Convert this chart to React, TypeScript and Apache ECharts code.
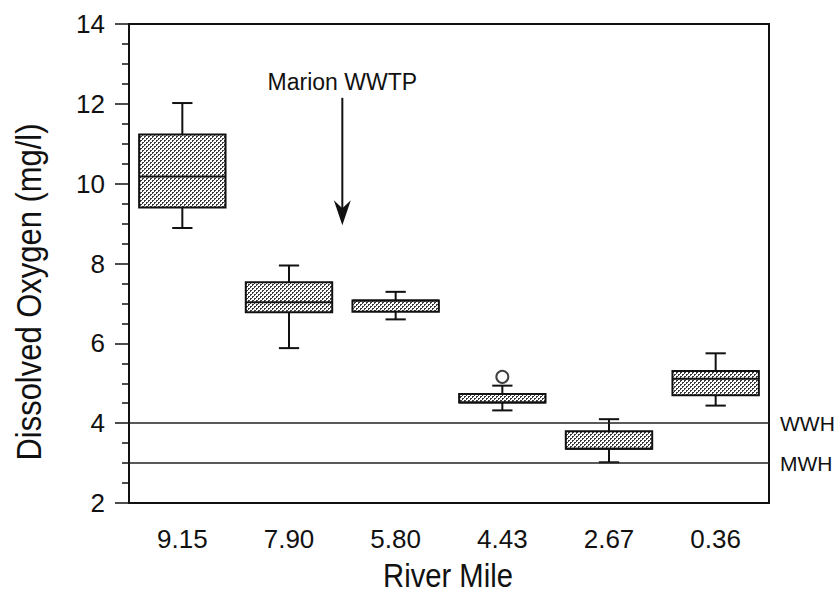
import React, { useEffect, useRef } from "react";
import * as echarts from "echarts";

// ---- data ----
const categories = ["9.15", "7.90", "5.80", "4.43", "2.67", "0.36"];
const whiskerLow = [8.89, 5.88, 6.6, 4.32, 3.02, 4.44];
const quartile1 = [9.4, 6.78, 6.79, 4.52, 3.36, 4.7];
const medians = [10.18, 7.03, 7.07, 4.52, 3.36, 5.11];
const quartile3 = [11.23, 7.53, 7.07, 4.73, 3.8, 5.31];
const whiskerHigh = [12.02, 7.95, 7.29, 4.94, 4.1, 5.75];
const outlierPoints = [[3, 5.16]];
const standardNames = ["WWH", "MWH"];
const standardValues = [4, 3];
const yMin = 2;
const yMax = 14;
const yInterval = 2;
// annotation: arrow between categories 1 and 2
const annotationText = "Marion WWTP";
const annotationBetween = [1, 2];
const annotationTop = 12.15;
const annotationTip = 8.96;
const annotationTextY = 12.55;

const FONT = "'Liberation Sans', Arial, Helvetica, sans-serif";
const INK = "#111";

function makePattern() {
  const c = document.createElement("canvas");
  c.width = 4;
  c.height = 4;
  const ctx = c.getContext("2d");
  if (ctx) {
    ctx.fillStyle = "#ffffff";
    ctx.fillRect(0, 0, 4, 4);
    ctx.fillStyle = "#3a3a3a";
    ctx.fillRect(0, 0, 2, 1);
    ctx.fillRect(0, 1, 1, 1);
    ctx.fillRect(2, 2, 2, 1);
    ctx.fillRect(2, 3, 1, 1);
  }
  return { image: c, repeat: "repeat", imageWidth: 4, imageHeight: 4 } as any;
}

export default function App() {
  const ref = useRef<HTMLDivElement>(null);

  useEffect(() => {
    if (!ref.current) return;
    const chart = echarts.init(ref.current, undefined, { renderer: "svg" });
    const pattern = makePattern();

    const boxData = categories.map((_, i) => [
      i,
      whiskerLow[i],
      quartile1[i],
      medians[i],
      quartile3[i],
      whiskerHigh[i],
    ]);

    const option: any = {
      animation: false,
      backgroundColor: "#ffffff",
      grid: { left: 129, right: 69, top: 24, bottom: 90, show: true, borderColor: INK, borderWidth: 2, backgroundColor: "transparent" },
      xAxis: {
        type: "category",
        data: categories,
        axisLine: { show: true, lineStyle: { color: INK, width: 2 } },
        axisTick: { show: false },
        axisLabel: { color: INK, fontFamily: FONT, fontSize: 26, margin: 23 },
        splitLine: { show: false },
      },
      yAxis: {
        type: "value",
        min: yMin,
        max: yMax,
        interval: yInterval,
        axisLine: { show: true, lineStyle: { color: INK, width: 2 } },
        axisTick: { show: true, length: 14, lineStyle: { color: INK, width: 1.5 } },
        minorTick: { show: true, splitNumber: 4, length: 7, lineStyle: { color: INK, width: 1.5 } },
        axisLabel: { color: INK, fontFamily: FONT, fontSize: 26, margin: 24 },
        splitLine: { show: false },
        minorSplitLine: { show: false },
      },
      graphic: [
        {
          type: "text",
          x: 29,
          y: 292,
          rotation: Math.PI / 2,
          scaleX: 0.86,
          style: {
            text: "Dissolved Oxygen (mg/l)",
            font: `36px ${FONT}`,
            fill: INK,
            textAlign: "center",
            textVerticalAlign: "middle",
          },
        },
        {
          type: "text",
          x: 448,
          y: 575,
          scaleX: 0.86,
          style: {
            text: "River Mile",
            font: `34px ${FONT}`,
            fill: INK,
            textAlign: "center",
            textVerticalAlign: "middle",
          },
        },
      ],
      series: [
        {
          type: "custom",
          name: "boxes",
          data: boxData,
          encode: { x: 0, y: [1, 2, 3, 4, 5] },
          renderItem: (params: any, api: any) => {
            const i = api.value(0);
            const pLow = api.coord([i, api.value(1)]);
            const pQ1 = api.coord([i, api.value(2)]);
            const pMed = api.coord([i, api.value(3)]);
            const pQ3 = api.coord([i, api.value(4)]);
            const pHigh = api.coord([i, api.value(5)]);
            const band = api.size([1, 0])[0];
            const bw = band * 0.81;
            const cap = band * 0.19;
            const x = pLow[0];
            const ls = { stroke: INK, lineWidth: 2 };
            return {
              type: "group",
              children: [
                { type: "line", shape: { x1: x, y1: pHigh[1], x2: x, y2: pQ3[1] }, style: ls },
                { type: "line", shape: { x1: x, y1: pQ1[1], x2: x, y2: pLow[1] }, style: ls },
                { type: "line", shape: { x1: x - cap / 2, y1: pHigh[1], x2: x + cap / 2, y2: pHigh[1] }, style: ls },
                { type: "line", shape: { x1: x - cap / 2, y1: pLow[1], x2: x + cap / 2, y2: pLow[1] }, style: ls },
                {
                  type: "rect",
                  shape: { x: x - bw / 2, y: pQ3[1], width: bw, height: pQ1[1] - pQ3[1] },
                  style: { fill: pattern, stroke: INK, lineWidth: 2 },
                },
                { type: "line", shape: { x1: x - bw / 2, y1: pMed[1], x2: x + bw / 2, y2: pMed[1] }, style: ls },
              ],
            };
          },
          z: 3,
        },
        {
          type: "scatter",
          name: "outliers",
          data: outlierPoints,
          symbol: "circle",
          symbolSize: 12,
          itemStyle: { color: "#ffffff", borderColor: INK, borderWidth: 2 },
          z: 4,
          markLine: {
            silent: true,
            symbol: "none",
            lineStyle: { type: "solid", color: "#222", width: 1.5 },
            label: { show: true, position: "end", formatter: "{b}", distance: 11, color: INK, fontFamily: FONT, fontSize: 21 },
            data: standardNames.map((n, k) => ({ name: n, yAxis: standardValues[k] })),
          },
        },
        {
          type: "custom",
          name: "annotation",
          data: [[annotationBetween[0], annotationBetween[1], annotationTop, annotationTip, annotationTextY]],
          encode: { x: [0, 1], y: [2, 3, 4] },
          renderItem: (params: any, api: any) => {
            const a = api.coord([api.value(0), api.value(2)]);
            const b = api.coord([api.value(1), api.value(2)]);
            const x = (a[0] + b[0]) / 2;
            const yTop = a[1];
            const yTip = api.coord([api.value(0), api.value(3)])[1];
            const yText = api.coord([api.value(0), api.value(4)])[1];
            return {
              type: "group",
              children: [
                { type: "line", shape: { x1: x, y1: yTop, x2: x, y2: yTip - 16 }, style: { stroke: INK, lineWidth: 2 } },
                {
                  type: "polygon",
                  shape: { points: [[x, yTip], [x - 8.5, yTip - 25], [x, yTip - 17], [x + 8.5, yTip - 25]] },
                  style: { fill: INK },
                },
                {
                  type: "text",
                  x: x,
                  y: yText,
                  style: { text: annotationText, font: `23px ${FONT}`, fill: INK, textAlign: "center", textVerticalAlign: "middle" },
                },
              ],
            };
          },
          z: 5,
        },
      ],
    };

    chart.setOption(option);
    return () => chart.dispose();
  }, []);

  return <div ref={ref} style={{ position: "fixed", left: 0, top: 0, width: 838, height: 593, background: "#fff" }} />;
}
